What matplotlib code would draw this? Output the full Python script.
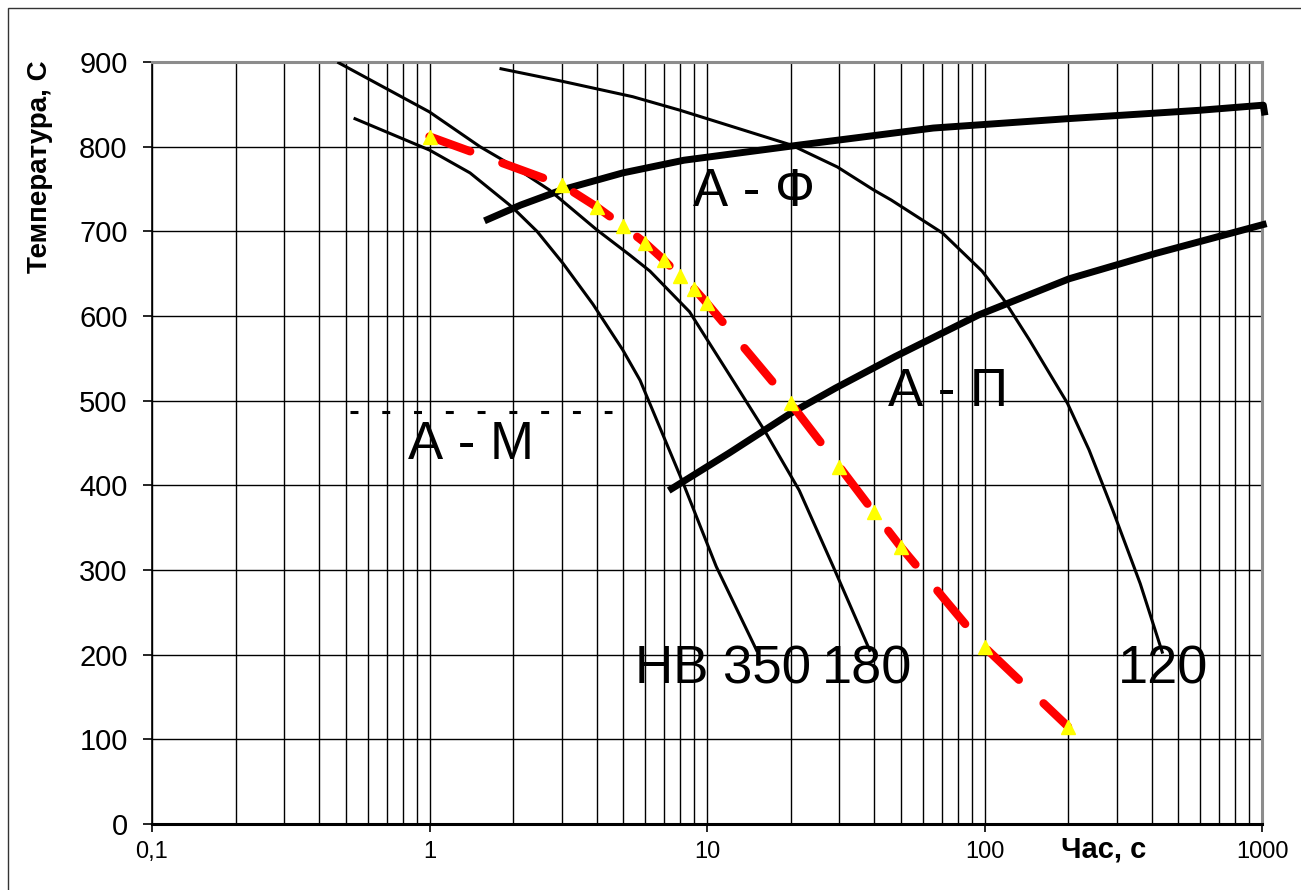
import matplotlib.pyplot as plt
from matplotlib.patches import Rectangle

plt.rcParams['font.family'] = ['Liberation Sans', 'DejaVu Sans']

# curves of cooling: time (s) and temperature (C)
hb350_x = [0.539, 1.0, 1.40, 1.98, 2.44, 3.03, 3.88, 4.97, 5.74, 7.75, 8.22, 10.8, 15.1]
hb350_y = [833, 796, 769, 729, 700, 662, 614, 560, 524, 422, 402, 304, 205]

hb180_x = [0.471, 1.0, 1.52, 1.98, 2.7, 4.0, 5.27, 6.23, 8.65, 12.4, 16.1, 21.5, 28.5, 38.6]
hb180_y = [899, 841, 800, 778, 749, 702, 672, 653, 605, 524, 465, 394, 304, 205]

hb120_x = [1.81, 3.03, 5.4, 8.0, 20.1, 29.5, 39.8, 46.1, 70.6, 98, 117.5, 145, 199, 238, 289.6, 364, 437]
hb120_y = [892, 877, 859, 843, 802, 776, 749, 737, 698, 653, 619, 572, 497, 442, 371, 284, 203]

# transformation lines
af_x = [1.62, 2.13, 3.0, 4.97, 8.26, 21.6, 65.4, 198, 598, 1011, 1020]
af_y = [714, 731, 749, 769, 784, 802, 822, 833, 843, 849, 841]

ap_x = [7.46, 12.0, 20.0, 29.1, 47.6, 94.9, 202, 415, 1010]
ap_y = [396, 438, 485, 515, 552, 601, 644, 674, 708]

am_x = [0.517, 4.55]
am_y = [487, 487]

# measured cooling (red)
meas_x = [1, 3, 4, 5, 6, 7, 8, 9, 10, 20, 30, 40, 50, 100, 200]
meas_y = [812, 755, 729, 706, 686, 666, 647, 632, 615, 497, 422, 368, 327, 209, 115]

xticks = [0.1, 1, 10, 100, 1000]
xtick_labels = ['0,1', '1', '10', '100', '1000']
yticks = list(range(0, 1000, 100))

fig = plt.figure(figsize=(13.01, 8.9), dpi=100)
ax = fig.add_axes([152/1301, 66/890, 1110/1301, 762/890])

ax.plot(hb350_x, hb350_y, color='black', lw=2.2, zorder=3)
ax.plot(hb180_x, hb180_y, color='black', lw=2.2, zorder=3)
ax.plot(hb120_x, hb120_y, color='black', lw=2.2, zorder=3)
ax.plot(af_x, af_y, color='black', lw=5, zorder=3, clip_on=False)
ax.plot(ap_x, ap_y, color='black', lw=5, zorder=3, clip_on=False)
ax.plot(am_x, am_y, color='black', lw=2.2, dashes=(2.6, 7.8), zorder=3)
ax.plot(meas_x, meas_y, color='red', lw=6, dashes=(5.2, 4.1),
        dash_capstyle='round', zorder=4)
ax.plot(meas_x, meas_y, ls='none', marker='^', ms=9.5, color='#FFFF00',
        mec='#FFFF00', zorder=5)

ax.set_xscale('log')
ax.set_xlim(0.1, 1000)
ax.set_ylim(0, 900)
ax.set_xticks(xticks)
ax.set_xticklabels(xtick_labels)
ax.set_yticks(yticks)
ax.tick_params(axis='x', which='major', direction='out', length=6, width=1.2,
               pad=6, labelsize=17)
ax.tick_params(axis='x', which='minor', length=0)
ax.tick_params(axis='y', direction='out', length=6.5, width=1.2, pad=11, labelsize=21)
ax.grid(True, which='both', axis='x', color='black', lw=1.0)
ax.grid(True, which='major', axis='y', color='black', lw=1.0)
ax.set_axisbelow(True)

for side in ['top', 'right']:
    ax.spines[side].set_color('#8c8c8c')
    ax.spines[side].set_linewidth(2.2)
ax.spines['left'].set_color('black')
ax.spines['left'].set_linewidth(1.2)
ax.spines['bottom'].set_color('black')
ax.spines['bottom'].set_linewidth(2.2)

lab = dict(fontsize=38, va='center', ha='left', zorder=6)
ax.text(8.9, 747, 'А - Ф', **lab)
ax.text(44.9, 510, 'А - П', **lab)
ax.text(0.837, 448, 'А - М', **lab)
ax.text(5.5, 182, 'НВ 350', **lab)
ax.text(25.9, 182, '180', fontsize=39, va='center', ha='left', zorder=6)
ax.text(303, 182, '120', fontsize=39, va='center', ha='left', zorder=6)

fig.text(40/1301, 1 - 60/890, 'Температура, С', rotation=90, ha='center', va='top',
         fontsize=20, fontweight='bold')
fig.text(1104/1301, 1 - 850/890, 'Час, с', ha='center', va='center',
         fontsize=21, fontweight='bold')

fig.patches.append(Rectangle((8/1301, -0.1), 1.2, 1.1 - 8/890, transform=fig.transFigure,
                             fill=False, edgecolor='#333333', lw=1))

fig.savefig('out.png', dpi=100)
